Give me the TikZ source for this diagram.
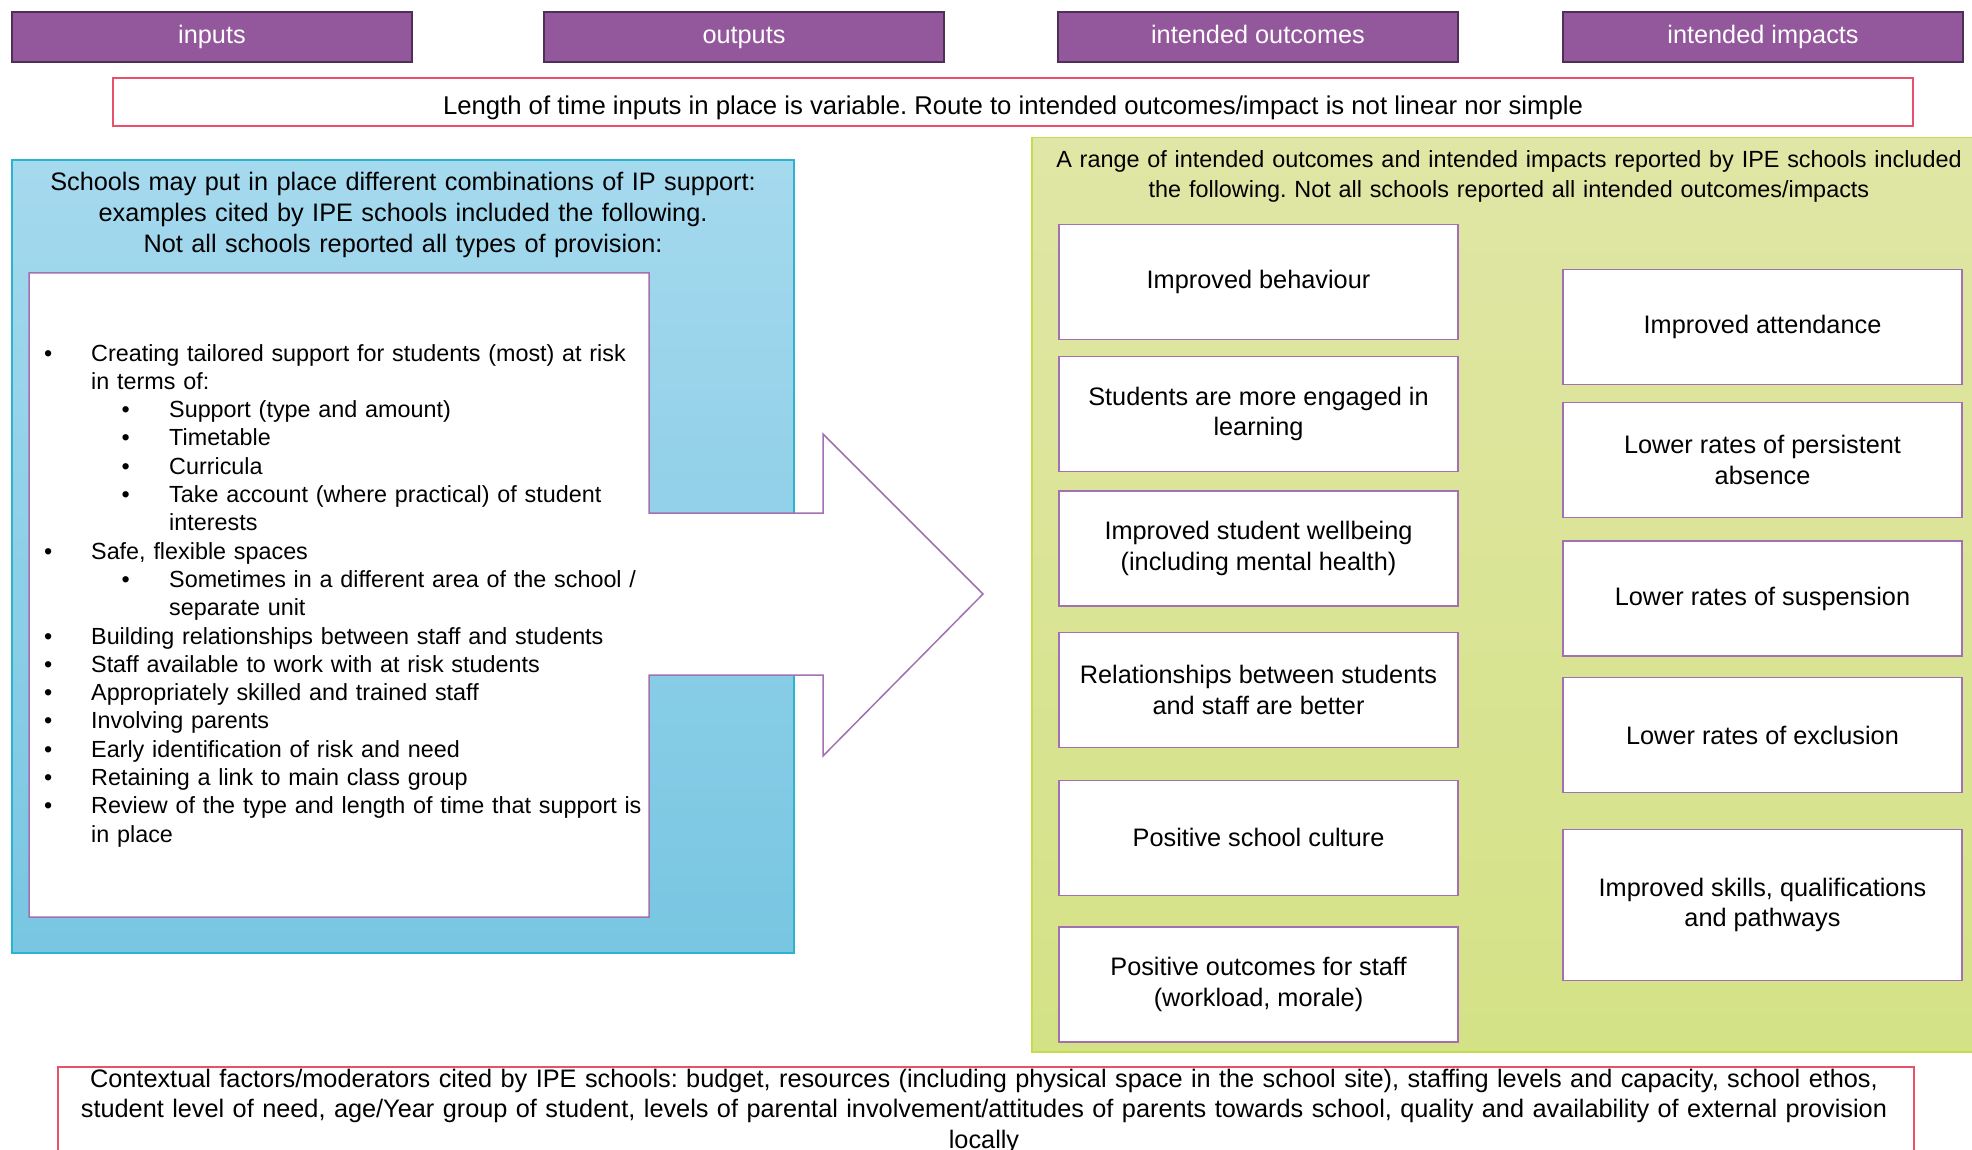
\documentclass[tikz,border=0pt]{standalone}
\usepackage{fontspec}
\setmainfont{Liberation Sans}
\usepackage{tikz}
\usetikzlibrary{positioning}

\definecolor{headfill}{HTML}{93579B}
\definecolor{headline}{HTML}{4F2E57}
\definecolor{notered}{HTML}{E9506B}
\definecolor{cardline}{HTML}{A370B3}
\definecolor{blueline}{HTML}{2BB3D0}
\definecolor{bluetop}{HTML}{A5D9EE}
\definecolor{bluebot}{HTML}{78C6E2}
\definecolor{greenline}{HTML}{C7DB4E}
\definecolor{greentop}{HTML}{E0E6A5}
\definecolor{greenbot}{HTML}{D4E286}

\newcommand{\bigtext}{\frenchspacing\fontsize{25.3}{30.7}\selectfont}
\newcommand{\midtext}{\frenchspacing\fontsize{23.4}{29.5}\selectfont}
\newcommand{\listtext}{\frenchspacing\fontsize{23.35}{28.3}\selectfont}
% bullet lines of the provision list
\newcommand{\itembul}[1]{\leftskip=0pt\hangindent=47pt\hangafter=1\noindent\makebox[47pt][l]{\textbullet}#1\par}
\newcommand{\subbul}[1]{\leftskip=77.5pt\hangindent=47.5pt\hangafter=1\noindent\makebox[47.5pt][l]{\textbullet}#1\par}

\begin{document}
\begin{tikzpicture}[x=1pt,y=-1pt,font=\bigtext,
  head/.style={draw=headline,fill=headfill,text=white,line width=1.5pt,minimum width=400pt,minimum height=50pt,inner sep=0pt,text height=18.4pt,text depth=5.4pt},
  card/.style={draw=cardline,fill=white,line width=1.5pt,minimum width=399pt,minimum height=115pt,align=center,inner sep=2pt},
  note/.style={draw=notered,line width=1.5pt,inner sep=0pt},
  panel/.style={line width=1.5pt,inner sep=0pt}]
\useasboundingbox (0,0) rectangle (1972,1150);
\clip (0,0) rectangle (1972,1150);

% column headings
\node[head] (inputs) at (212,37) {inputs};
\node[head,right=130.5pt of inputs] (outputs) {outputs};
\node[head,right=112.5pt of outputs] (outcomes) {intended outcomes};
\node[head,right=103.5pt of outcomes] (impacts) {intended impacts};

\node[note,minimum width=1800pt,minimum height=48pt] (timing) at (1013,102) {};
\node[anchor=base,inner sep=0pt,font=\frenchspacing\fontsize{25.7}{30.7}\selectfont] (timingtext) at (1013,115)
  {Length of time inputs in place is variable. Route to intended outcomes/impact is not linear nor simple};

% inputs panel
\node[panel,draw=blueline,top color=bluetop,bottom color=bluebot,minimum width=782pt,minimum height=793pt] (provision) at (403,556.5) {};
\node[anchor=base,text width=770pt,align=center,inner sep=0pt] (provtitle) at (403,191)
  {Schools may put in place different combinations of IP support:\\
   examples cited by IPE schools included the following.\\
   Not all schools reported all types of provision:};
\draw[draw=cardline,fill=white,line width=1.5pt] (29,273) -- (649,273) -- (649,513) -- (823,513) -- (823,434)
  -- (983,594) -- (823,756) -- (823,675) -- (649,675) -- (649,917) -- (29,917) -- cycle;
\node[anchor=base west,text width=700pt,align=left,inner sep=0pt,font=\listtext] (support) at (44,361) {%
  \itembul{Creating tailored support for students (most) at risk\newline in terms of:}
  \subbul{Support (type and amount)}
  \subbul{Timetable}
  \subbul{Curricula}
  \subbul{Take account (where practical) of student\newline interests}
  \itembul{Safe, flexible spaces}
  \subbul{Sometimes in a different area of the school /\newline separate unit}
  \itembul{Building relationships between staff and students}
  \itembul{Staff available to work with at risk students}
  \itembul{Appropriately skilled and trained staff}
  \itembul{Involving parents}
  \itembul{Early identification of risk and need}
  \itembul{Retaining a link to main class group}
  \itembul{Review of the type and length of time that support is\newline in place}};

% outcomes and impacts panel
\node[panel,draw=greenline,top color=greentop,bottom color=greenbot,minimum width=960pt,minimum height=914pt,anchor=north west] (reported) at (1031,137) {};
\node[anchor=base,text width=940pt,align=center,inner sep=0pt,font=\midtext] (reptitle) at (1509,168)
  {A range of intended outcomes and intended impacts reported by IPE schools included\\
   the following. Not all schools reported all intended outcomes/impacts};

\node[card] (behaviour) at (1258.5,282) {Improved behaviour};
\node[card,below=15.5pt of behaviour] (engaged) {Students are more engaged in\\learning};
\node[card,below=18pt of engaged] (wellbeing) {Improved student wellbeing\\(including mental health)};
\node[card,below=25.2pt of wellbeing] (relations) {Relationships between students\\and staff are better};
\node[card,below=31.2pt of relations] (culture) {Positive school culture};
\node[card,below=30pt of culture] (staff) {Positive outcomes for staff\\(workload, morale)};

\node[card] (attendance) at (1762.5,327) {Improved attendance};
\node[card,below=16.7pt of attendance] (absence) {Lower rates of persistent\\absence};
\node[card,below=22pt of absence] (suspension) {Lower rates of suspension};
\node[card,below=20pt of suspension] (exclusion) {Lower rates of exclusion};
\node[card,below=35.2pt of exclusion,minimum height=151pt] (skills) {Improved skills, qualifications\\and pathways};

% context along the bottom
\node[note,minimum width=1856pt,minimum height=100pt,anchor=north west] (context) at (57,1066) {};
\node[anchor=base,text width=1860pt,align=center,inner sep=0pt] (contexttext) at (984,1087)
  {Contextual factors/moderators cited by IPE schools: budget, resources (including physical space in the school site), staffing levels and capacity, school ethos,\\
   student level of need, age/Year group of student, levels of parental involvement/attitudes of parents towards school, quality and availability of external provision\\
   locally};
\end{tikzpicture}
\end{document}
